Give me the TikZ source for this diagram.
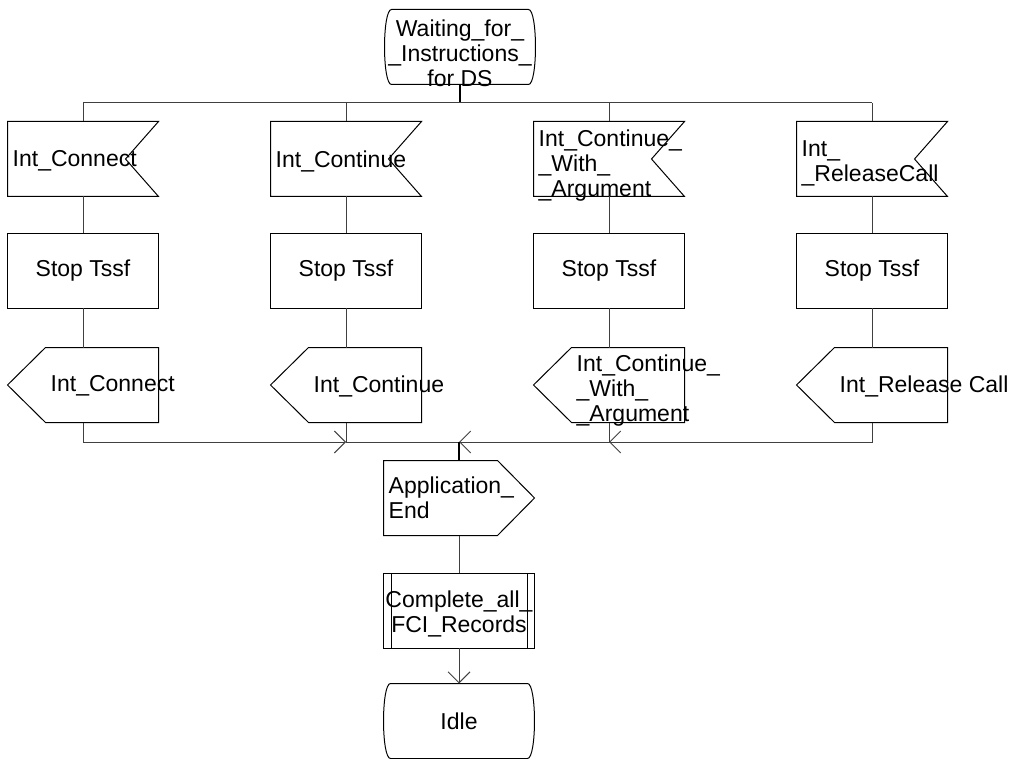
\documentclass[tikz,border=0pt]{standalone}
\usepackage{fontspec}
\setmainfont{Liberation Sans}
\usetikzlibrary{arrows.meta}

\begin{document}
\begin{tikzpicture}[x=1pt,y=-1pt,
  sym/.style={minimum width=151pt,minimum height=75pt,inner sep=0pt,outer sep=0pt},
  txt/.style={font=\fontsize{23}{25}\selectfont,inner sep=0pt,align=left},
  shp/.style={line width=1pt,black},
  ln/.style={line width=1pt,black!75},
  arr/.style={ln,-{Straight Barb[length=11pt,width=22pt]}}]
  \useasboundingbox (0,0) rectangle (1012,759);

  % states
  \node[sym] (wait) at (460,47) {};
  \node[sym] (idle) at (459,721) {};
  \foreach \n in {wait,idle}
    \draw[shp] ([xshift=7pt]\n.north west) -- ([xshift=-7pt]\n.north east)
      .. controls ([xshift=2.3pt]\n.north east) and ([xshift=2.3pt]\n.south east) .. ([xshift=-7pt]\n.south east)
      -- ([xshift=7pt]\n.south west)
      .. controls ([xshift=-2.3pt]\n.south west) and ([xshift=-2.3pt]\n.north west) .. ([xshift=7pt]\n.north west) -- cycle;
  \node[txt,align=center] (waitt) at (460,53) {Waiting\_for\_\\\_Instructions\_\\for DS};
  \node[txt] (idlet) at (idle) {Idle};

  % inputs
  \node[sym] (in1) at (83,159) {};
  \node[sym] (in2) at (346,159) {};
  \node[sym] (in3) at (609,159) {};
  \node[sym] (in4) at (872,159) {};
  \foreach \n in {in1,in2,in3,in4}
    \draw[shp] (\n.north west) -- (\n.north east) -- ([xshift=-33pt]\n.east)
      -- (\n.south east) -- (\n.south west) -- cycle;
  \node[txt,anchor=west] (in1t) at ([xshift=5pt,yshift=-2pt]in1.west) {Int\_Connect};
  \node[txt,anchor=west] (in2t) at ([xshift=5pt,yshift=-2pt]in2.west) {Int\_Continue};
  \node[txt,anchor=west] (in3t) at ([xshift=5pt,yshift=-7pt]in3.west) {Int\_Continue\_\\\_With\_\\\_Argument};
  \node[txt,anchor=west] (in4t) at ([xshift=5pt,yshift=-4pt]in4.west) {Int\_\\\_ReleaseCall};

  % timer stop
  \foreach \x/\n in {83/stop1,346/stop2,609/stop3,872/stop4}
    \node[sym,draw,shp,txt] (\n) at (\x,271) {Stop Tssf};

  % outputs
  \node[sym] (out1) at (83,385) {};
  \node[sym] (out2) at (346,385) {};
  \node[sym] (out3) at (609,385) {};
  \node[sym] (out4) at (872,385) {};
  \foreach \n in {out1,out2,out3,out4}
    \draw[shp] (\n.west) -- ([xshift=38pt]\n.north west) -- (\n.north east)
      -- (\n.south east) -- ([xshift=38pt]\n.south west) -- cycle;
  \node[txt,anchor=west] (out1t) at ([xshift=43pt,yshift=-1pt]out1.west) {Int\_Connect};
  \node[txt,anchor=west] (out2t) at ([xshift=43pt,yshift=-1pt]out2.west) {Int\_Continue};
  \node[txt,anchor=west] (out3t) at ([xshift=43pt,yshift=-6pt]out3.west) {Int\_Continue\_\\\_With\_\\\_Argument};
  \node[txt,anchor=west] (out4t) at ([xshift=43pt,yshift=-1pt]out4.west) {Int\_Release Call};

  % branches
  \coordinate (bus) at (460,103);
  \draw[ln,line width=1.6pt,black] (wait.south) -- (bus);
  \draw[ln] (in1.north |- bus) -- (in4.north |- bus);
  \foreach \i in {1,2,3,4} {
    \draw[ln] (in\i.north |- bus) -- (in\i.north);
    \draw[ln] (in\i.south) -- (stop\i.north);
    \draw[ln] (stop\i.south) -- (out\i.north);
  }

  % merge
  \coordinate (mrg) at (459,442);
  \draw[arr] (out1.south) |- (out2.south |- mrg);
  \draw[ln] (out2.south) |- (mrg);
  \draw[arr] (out4.south) |- (out3.south |- mrg);
  \draw[arr] (out3.south) |- (mrg);

  % application end
  \node[sym] (appe) at (459,498) {};
  \draw[shp] (appe.north west) -- ([xshift=-37pt]appe.north east) -- (appe.east)
    -- ([xshift=-37pt]appe.south east) -- (appe.south west) -- cycle;
  \node[txt,anchor=west] (appet) at ([xshift=5pt]appe.west) {Application\_\\End};
  \draw[ln,line width=1.6pt,black] (mrg) -- (appe.north);

  % procedure
  \node[sym,draw,shp] (recs) at (459,610.5) {};
  \draw[shp] ([xshift=8pt]recs.north west) -- ([xshift=8pt]recs.south west)
    ([xshift=-7pt]recs.north east) -- ([xshift=-7pt]recs.south east);
  \node[txt,align=center] (recst) at (459,614) {Complete\_all\_\\FCI\_Records};
  \draw[ln] (appe.south) -- (recs.north);
  \draw[arr] (recs.south) -- (idle.north);
\end{tikzpicture}
\end{document}
